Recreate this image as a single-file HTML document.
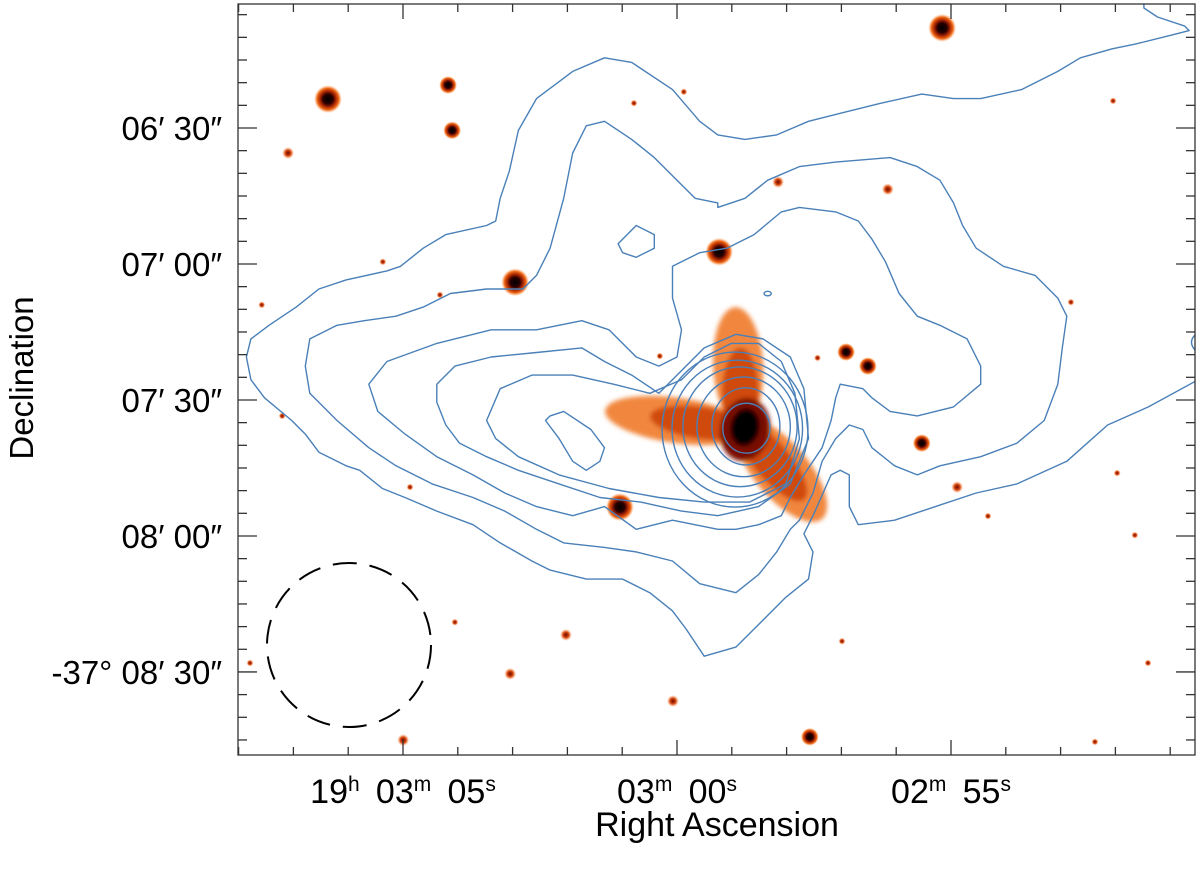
<!DOCTYPE html>
<html><head><meta charset="utf-8"><title>Radio contours over optical image</title>
<style>
html,body{margin:0;padding:0;background:#fff;}
svg{display:block;font-family:"Liberation Sans",Arial,sans-serif;}
</style></head>
<body>
<svg id="chart" width="1200" height="881" viewBox="0 0 1200 881" xmlns="http://www.w3.org/2000/svg">
<defs>
<radialGradient id="starGrad">
<stop offset="0%" stop-color="#000"/>
<stop offset="35%" stop-color="#2a0000"/>
<stop offset="55%" stop-color="#a02000"/>
<stop offset="78%" stop-color="#f06a18"/>
<stop offset="100%" stop-color="#ffb070" stop-opacity="0"/>
</radialGradient>
<radialGradient id="smallGrad">
<stop offset="0%" stop-color="#700800"/>
<stop offset="50%" stop-color="#d84a10"/>
<stop offset="100%" stop-color="#ffa060" stop-opacity="0"/>
</radialGradient>
<filter id="blur3" x="-50%" y="-50%" width="200%" height="200%"><feGaussianBlur stdDeviation="2.5"/></filter>
<clipPath id="plotClip"><rect x="238" y="4" width="957" height="751"/></clipPath>
</defs>
<g id="imageLayer" clip-path="url(#plotClip)"></g>
<g id="contourLayer" clip-path="url(#plotClip)"></g>
<circle cx="349" cy="645" r="82" fill="none" stroke="#000" stroke-width="2" stroke-dasharray="24 13"/>
<g id="axisLayer"></g>
<text x="717" y="836" font-size="34" text-anchor="middle" fill="#000">Right Ascension</text>
<text x="0" y="0" font-size="33" text-anchor="middle" fill="#000" transform="translate(33,378) rotate(-90)">Declination</text>
</svg>
<script>
// ---- data (offsets in arcsec from field centre; +east = left, +north = up) ----
var contourA = [[-88,93],[-88,92],[-91,90],[-97,88],[-98,87],[-94,86],[-86,84],[-81,83],[-74,81],[-69,78],[-61,74],[-52,72],[-46,72],[-39,73],[-30,71],[-22,69],[-14,67],[-7,64],[0,63],[6,64],[10,67],[16,74],[25,80],[31,81],[38,78],[46,72],[50,65],[52,56],[54,50],[55,45],[57,44],[66,42],[71,39],[76,35],[79,34],[88,32],[94,30],[99,26],[105,22],[109,19],[110,15],[109,10],[106,6],[100,1],[97,-2],[94,-6],[88,-9],[85,-10],[80,-14],[75,-16],[68,-19],[60,-22],[54,-26],[47,-30],[43,-32],[35,-34],[27,-34],[21,-37],[16,-41],[13,-45],[9,-51],[2,-49],[-3,-44],[-9,-38],[-14,-34],[-15,-28],[-13,-24],[-15,-20],[-19,-11],[-21,-10],[-23,-11],[-23,-18],[-25,-22],[-33,-21],[-42,-18],[-51,-15],[-60,-13],[-71,-8],[-80,0],[-89,4],[-100,10]];
var contourB = [[6,49],[11,50],[15,54],[20,59],[25,63],[31,67],[35,66],[38,60],[40,50],[43,39],[46,33],[49,30],[57,30],[65,29],[71,26],[77,24],[84,23],[90,22],[96,19],[97,13],[96,7],[90,1],[83,-5],[77,-9],[69,-13],[60,-16],[53,-19],[46,-23],[40,-26],[31,-27],[24,-28],[16,-30],[10,-35],[2,-37],[-3,-33],[-7,-28],[-10,-23],[-12,-21],[-15,-15],[-17,-8],[-20,-3],[-23,0],[-26,-1],[-28,-5],[-33,-9],[-38,-11],[-43,-9],[-52,-7],[-60,-4],[-66,1],[-69,9],[-70,17],[-71,24],[-69,28],[-64,33],[-57,35],[-51,39],[-48,44],[-46,49],[-43,54],[-38,57],[-32,59],[-20,58],[-12,57],[-5,54],[0,50],[6,48]];
var contourC = [[10,38],[4,39],[-2,42],[-8,47],[-12,48],[-20,47],[-25,45],[-28,41],[-31,36],[-34,29],[-38,24],[-43,22],[-49,19],[-52,13],[-52,9],[-46,4],[-38,2],[-32,3],[-28,6],[-26,8],[-21,9],[-20,6],[-19,1],[-17,-5],[-13,-11],[-10,-16],[-8,-20],[-3,-22],[2,-23],[6,-23],[16,-21],[24,-23],[31,-18],[38,-20],[46,-18],[53,-15],[60,-11],[68,-7],[75,-2],[81,3],[83,9],[79,14],[68,18],[56,21],[46,21],[36,23],[30,21],[24,15],[19,13],[15,15],[14,21],[16,28],[16,35]];
var contourD = [[36,17],[46,16],[56,15],[64,13],[68,9],[68,5],[66,0],[63,-4],[57,-7],[50,-10],[41,-13],[32,-16],[23,-17],[14,-19],[6,-20],[-3,-18],[-10,-13],[-14,-3],[-13,8],[-10,15],[-4,19],[2,20],[9,17],[14,12],[19,7],[25,11],[31,14]];
var contourE = [[38,11],[47,11],[54,8],[57,1],[55,-3],[50,-7],[41,-11],[30,-14],[19,-16],[9,-17],[-1,-17],[-9,-13],[-12,-3],[-11,7],[-8,14],[-3,18],[3,18],[9,15],[14,10],[21,7],[29,9]];
var contourF = [[43,2],[40,3],[34,-1],[31,-5],[32,-8],[35,-10],[38,-8],[41,-3],[44,1]];
var contourG = [[28,40],[24,44],[20,42],[20,39],[24,37],[27,38]];
var innerLevels = [[-0.3,-0.7,5.2,5.5],[-0.2,-0.3,7.5,8.5],[0.3,-0.4,10.3,11],[1.1,-0.4,12.6,13.2],[1.7,-0.8,14.4,15.1],[2.2,-1,16.1,17.1],[-5,29,0.8,0.5]];
var stars = [[-43.5,87.6,3],[92,71.9,3],[65.5,75,2],[64.6,65,2],[100.8,60,1],[50.7,31.5,3],[5.7,38.2,3],[-7.3,53.6,1],[-31.5,52,1],[-22.3,16.1,2],[-27.1,13,2],[-39,-4,2],[-46.8,-13.7,1],[27.6,-18.1,3],[-14.3,-68.8,2],[15.9,-60.9,1],[39.5,-46.3,1],[51.8,-54.9,1],[75.4,-69.5,1],[-71.9,27.1,0],[-82.1,-10.6,0],[-88.9,-52.5,0],[-86,-24.3,0],[-53.6,-20.1,0],[24.5,71,0],[13.5,73.5,0],[79.9,36,0],[67.3,28.7,0],[106.6,26.5,0],[102.1,2,0],[73.9,-13.7,0],[-81.2,71.5,0],[-21.4,-47.7,0],[-77.2,-69.9,0],[64,-43.5,0],[109.2,-52.5,0],[-16,14.8,0],[18.8,15.2,0]];
var galaxyParts = [[1.5,13,5.5,13,-3,0],[15,1,16,5,8,0],[-8,-10,14,6,50,0],[1,7,4,10,0,1],[10,0.5,11,3.5,8,1],[-6,-8,11,4,50,1],[0,-1,5.5,7,10,2],[0,-0.5,3.2,4.2,10,3]];
var raTicks = [8,7,6,5,4,3,2,1,0,-1,-2,-3,-4,-5,-6,-7,-8,-9];
var raMajor = [5,0,-5];
var raLabels = [["19","h","\u2009 03","m","\u2009 05","s"],["03","m","\u2009 00","s"],["02","m","\u2009 55","s"]];
var decMajor = [30,60,90,120,150];
var decLabels = ["06\u2032 30\u2033","07\u2032 00\u2033","07\u2032 30\u2033","08\u2032 00\u2033","-37\u00b0 08\u2032 30\u2033"];

var PX = 4.533;
function xOff(ew){ return 745 - ew*PX; }
function yOff(ns){ return 425 - ns*PX; }
function xRA(s){ return 677 - s*54.8; }
function yDec(a){ return 128 + (a-30)*PX; }
var NS = "http://www.w3.org/2000/svg";
function mk(tag, attrs, parent){ var e=document.createElementNS(NS,tag); for(var k in attrs) e.setAttribute(k, attrs[k]); parent.appendChild(e); return e; }

var img = document.getElementById('imageLayer');
var galColors = ["#f07a2a","#d04a10","#7a1000","#000"];
var gal = mk('g', {filter:'url(#blur3)'}, img);


galaxyParts.forEach(function(p){
  var e = mk('ellipse', {cx:xOff(p[0]), cy:yOff(p[1]), rx:p[2]*PX, ry:p[3]*PX, fill:galColors[p[5]], opacity: p[5]==0?0.9:1,
    transform:'rotate('+p[4]+' '+xOff(p[0])+' '+yOff(p[1])+')'}, gal);
  
  
});
var radii = [3.5, 6, 9, 14];
stars.forEach(function(s){
  var e = mk('circle', {cx:xOff(s[0]), cy:yOff(s[1]), r:radii[s[2]], fill: s[2]>=2 ? 'url(#starGrad)' : 'url(#smallGrad)'}, img);
  
  
});

var cl = document.getElementById('contourLayer');
function poly(pts, closed, name){
  var d = pts.map(function(p,i){ return (i?'L':'M')+xOff(p[0]).toFixed(1)+' '+yOff(p[1]).toFixed(1); }).join(' ') + (closed?' Z':'');
  var e = mk('path', {d:d, fill:'none', stroke:'#4a80b8', 'stroke-width':1.4, 'stroke-linejoin':'round'}, cl);
  
  
}
poly(contourA, false, 'contour-level-1');
poly(contourB, true, 'contour-level-2');
poly(contourC, true, 'contour-level-3');
poly(contourD, true, 'contour-level-4');
poly(contourE, true, 'contour-level-5');
poly(contourF, true, 'contour-local-peak');
poly(contourG, true, 'contour-island');
innerLevels.forEach(function(l){
  var e = mk('ellipse', {cx:xOff(l[0]), cy:yOff(l[1]), rx:l[2]*PX, ry:l[3]*PX, fill:'none', stroke:'#4a80b8', 'stroke-width':1.4}, cl);
  
  
});
var notch = mk('path', {d:'M1195 335 Q1188 342 1195 350', fill:'none', stroke:'#4a80b8', 'stroke-width':1.4}, cl);



var ax = document.getElementById('axisLayer');
var frame = mk('rect', {x:238, y:4, width:957, height:751, fill:'none', stroke:'#333', 'stroke-width':1.3}, ax);


raTicks.forEach(function(s){
  var x = xRA(s), L = raMajor.indexOf(s)>=0 ? 15 : 8;
  var t1 = mk('line', {x1:x, y1:755, x2:x, y2:755-L, stroke:'#333', 'stroke-width':1.3}, ax);
  
  
  var t2 = mk('line', {x1:x, y1:4, x2:x, y2:4+L, stroke:'#333', 'stroke-width':1.3}, ax);
  
  
});
for (var a=5; a<=165; a+=5){
  var y = yDec(a), L = decMajor.indexOf(a)>=0 ? 19 : 9;
  var t1 = mk('line', {x1:238, y1:y, x2:238+L, y2:y, stroke:'#333', 'stroke-width':1.3}, ax);
  
  
  var t2 = mk('line', {x1:1195, y1:y, x2:1195-L, y2:y, stroke:'#333', 'stroke-width':1.3}, ax);
  
  
}
decMajor.forEach(function(a, i){
  var t = mk('text', {x:222, y:yDec(a)+12, 'font-size':33, 'text-anchor':'end', fill:'#000'}, ax);
  t.textContent = decLabels[i];
  
  
});
raMajor.forEach(function(s, i){
  var t = mk('text', {x:xRA(s), y:803, 'font-size':34, 'text-anchor':'middle', fill:'#000'}, ax);
  
  
  var parts = raLabels[i];
  for (var k=0; k<parts.length; k+=2){
    var a1 = document.createElementNS(NS,'tspan'); a1.textContent = parts[k]; a1.setAttribute('dy', k ? '12' : '0'); t.appendChild(a1);
    var a2 = document.createElementNS(NS,'tspan'); a2.textContent = parts[k+1]; a2.setAttribute('font-size','21'); a2.setAttribute('dy','-12'); t.appendChild(a2);
  }
});
</script>
</body></html>
